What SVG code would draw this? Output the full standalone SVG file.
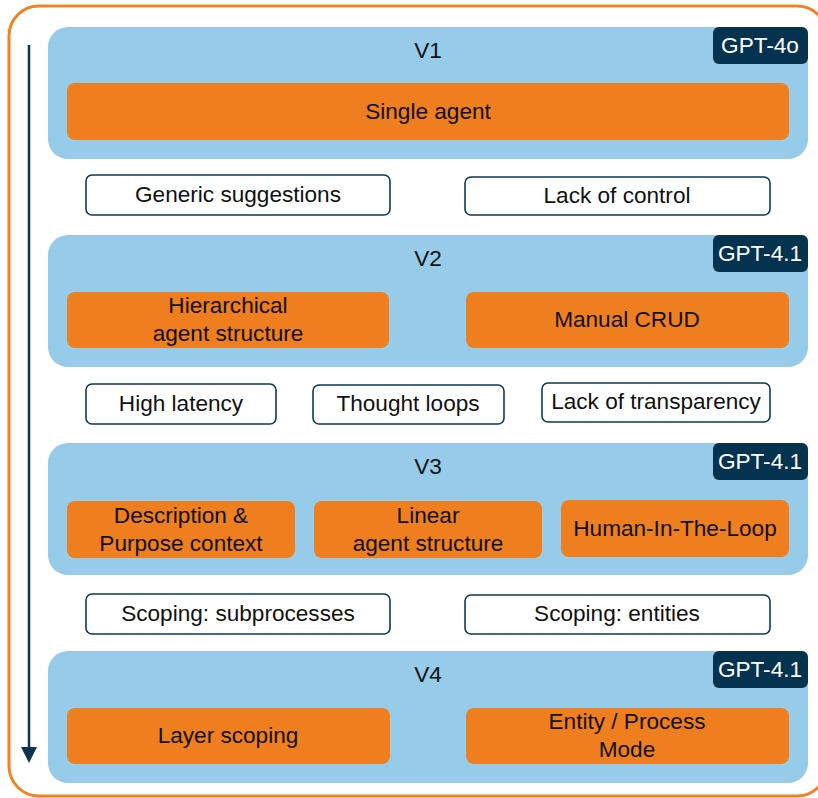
<svg xmlns="http://www.w3.org/2000/svg" width="818" height="798" viewBox="0 0 818 798">
<defs>
<style>
.panel{fill:#96CCEA}
.item{fill:#EF7E1E}
.badge{fill:#05324F}
.issue{fill:#fff;stroke:#0D3A56;stroke-width:1.6}
text{font-family:"Liberation Sans",Arial,sans-serif;font-size:22.6px;fill:#111;text-anchor:middle}
.bt{fill:#fff}
</style>
</defs>
<rect x="9" y="6" width="818" height="790" rx="30" fill="#fff" stroke="#F08424" stroke-width="3"/>
<g id="connectors">
<line x1="29" y1="45" x2="29" y2="748" stroke="#0D3550" stroke-width="2.5"/>
<path d="M21,747 L37,747 L29,763 Z" fill="#0D3550"/>
</g>
<g id="v1">
<rect class="panel" x="48" y="27" width="760" height="132" rx="20"/>
<text x="428" y="58">V1</text>
<rect class="badge" x="713" y="27" width="95" height="37" rx="6"/>
<text class="bt" x="760" y="53">GPT-4o</text>
</g>
<g id="single-agent">
<rect class="item" x="67" y="83" width="722" height="57" rx="8"/>
<text x="428" y="119">Single agent</text>
</g>
<g id="generic-suggestions">
<rect class="issue" x="86" y="175" width="304" height="40" rx="6"/>
<text x="238" y="202">Generic suggestions</text>
</g>
<g id="lack-of-control">
<rect class="issue" x="465" y="177" width="305" height="38" rx="6"/>
<text x="617" y="203">Lack of control</text>
</g>
<g id="v2">
<rect class="panel" x="48" y="235" width="760" height="132" rx="20"/>
<text x="428" y="266">V2</text>
<rect class="badge" x="713" y="235" width="95" height="37" rx="6"/>
<text class="bt" x="760" y="261">GPT-4.1</text>
</g>
<g id="hierarchical">
<rect class="item" x="67" y="292" width="322" height="56" rx="8"/>
<text x="228" y="313">Hierarchical</text>
<text x="228" y="341">agent structure</text>
</g>
<g id="manual-crud">
<rect class="item" x="466" y="292" width="323" height="56" rx="8"/>
<text x="627" y="327">Manual CRUD</text>
</g>
<g id="high-latency">
<rect class="issue" x="86" y="384" width="190" height="40" rx="6"/>
<text x="181" y="411">High latency</text>
</g>
<g id="thought-loops">
<rect class="issue" x="313" y="385" width="191" height="39" rx="6"/>
<text x="408" y="411">Thought loops</text>
</g>
<g id="lack-of-transparency">
<rect class="issue" x="542" y="383" width="228" height="39" rx="6"/>
<text x="656" y="409">Lack of transparency</text>
</g>
<g id="v3">
<rect class="panel" x="48" y="443" width="760" height="132" rx="20"/>
<text x="428" y="474">V3</text>
<rect class="badge" x="713" y="443" width="95" height="37" rx="6"/>
<text class="bt" x="760" y="469">GPT-4.1</text>
</g>
<g id="description">
<rect class="item" x="67" y="501" width="228" height="57" rx="8"/>
<text x="181" y="523">Description &amp;</text>
<text x="181" y="551">Purpose context</text>
</g>
<g id="linear">
<rect class="item" x="314" y="501" width="228" height="57" rx="8"/>
<text x="428" y="523">Linear</text>
<text x="428" y="551">agent structure</text>
</g>
<g id="hitl">
<rect class="item" x="561" y="500" width="228" height="57" rx="8"/>
<text x="675" y="536">Human-In-The-Loop</text>
</g>
<g id="scoping-subprocesses">
<rect class="issue" x="86" y="594" width="304" height="40" rx="6"/>
<text x="238" y="621">Scoping: subprocesses</text>
</g>
<g id="scoping-entities">
<rect class="issue" x="465" y="595" width="305" height="39" rx="6"/>
<text x="617" y="621">Scoping: entities</text>
</g>
<g id="v4">
<rect class="panel" x="48" y="651" width="760" height="132" rx="20"/>
<text x="428" y="682">V4</text>
<rect class="badge" x="713" y="651" width="95" height="37" rx="6"/>
<text class="bt" x="760" y="677">GPT-4.1</text>
</g>
<g id="layer-scoping">
<rect class="item" x="67" y="708" width="323" height="56" rx="8"/>
<text x="228" y="743">Layer scoping</text>
</g>
<g id="entity-process">
<rect class="item" x="466" y="708" width="323" height="56" rx="8"/>
<text x="627" y="729">Entity / Process</text>
<text x="627" y="757">Mode</text>
</g>
</svg>
